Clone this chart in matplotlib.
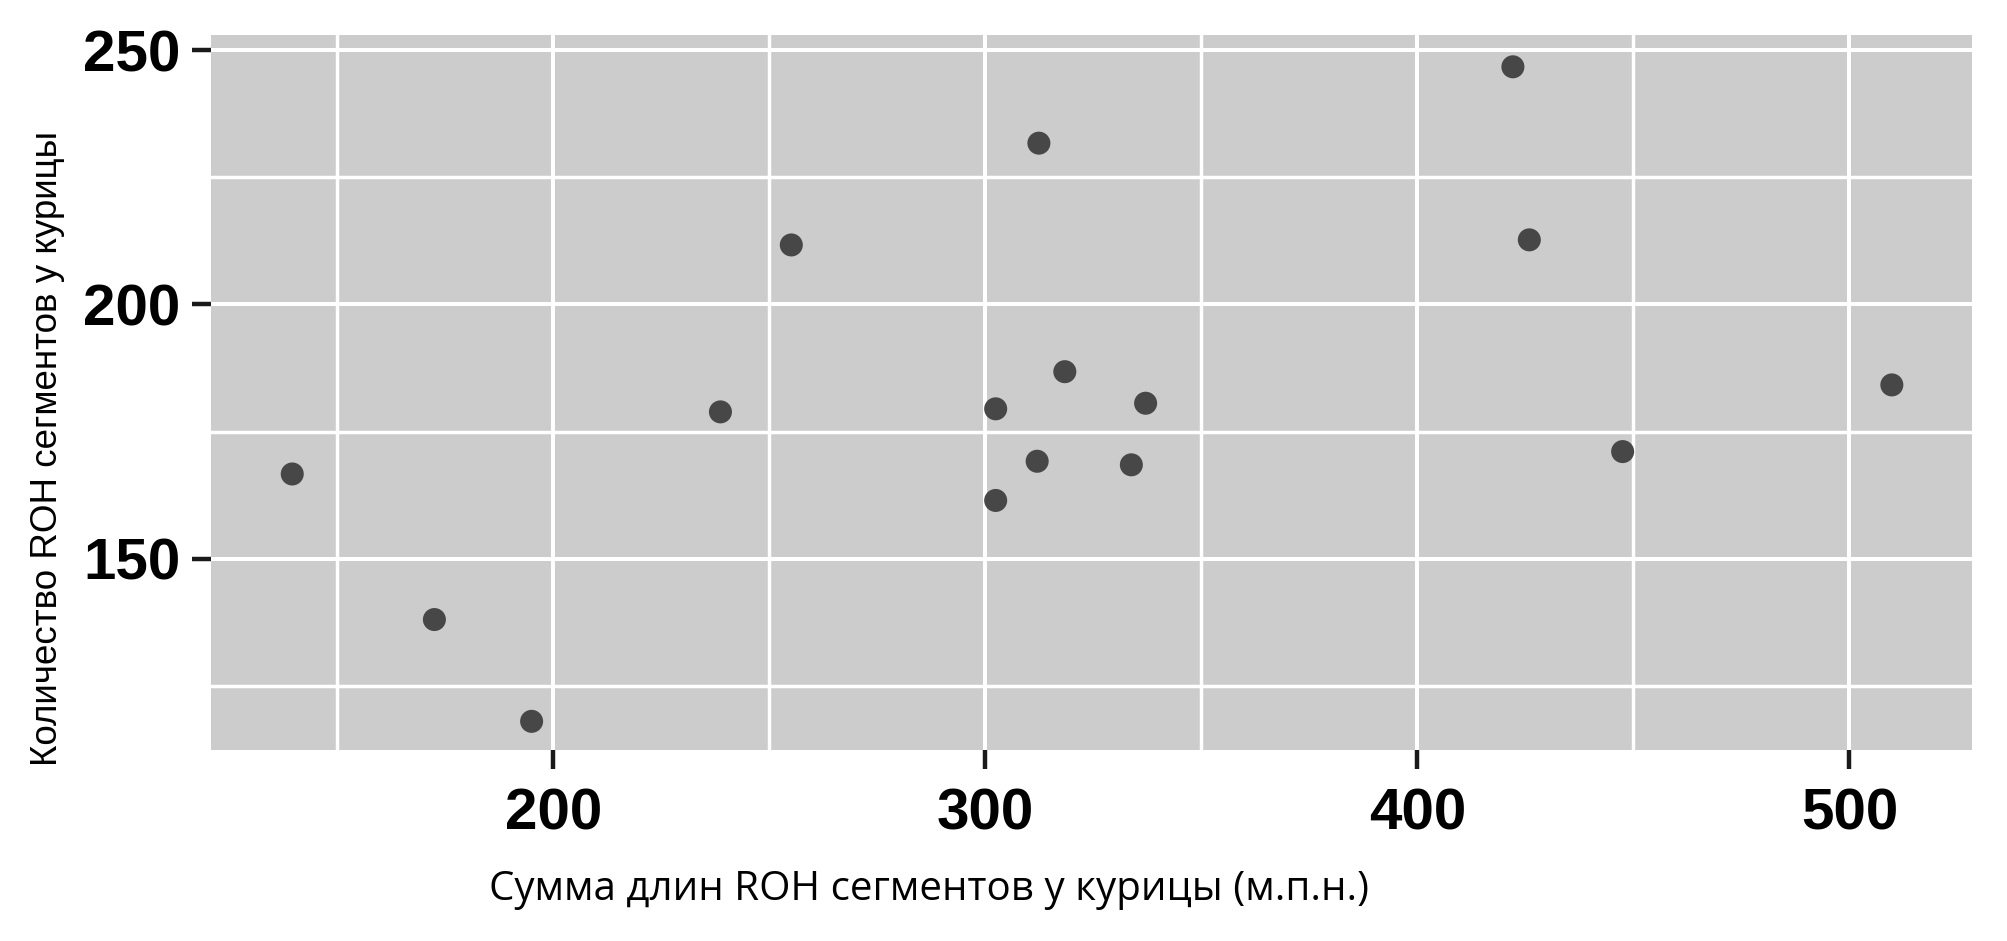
import matplotlib
matplotlib.use("Agg")
import matplotlib.pyplot as plt
from matplotlib.ticker import FixedLocator

# Data
roh_total_length = [139.6, 172.5, 195.0, 238.7, 255.1, 302.4, 302.4, 312.4, 312.0,
                    318.4, 333.8, 337.1, 422.1, 425.9, 447.5, 509.8]
roh_count = [166.7, 138.1, 118.1, 178.9, 211.7, 179.5, 161.5, 231.7, 169.2,
             186.8, 168.5, 180.6, 246.7, 212.7, 171.1, 184.2]

x_ticks = [200, 300, 400, 500]
y_ticks = [150, 200, 250]
x_minor = [150, 250, 350, 450]
y_minor = [125, 175, 225]

x_label = "Сумма длин ROH сегментов у курицы (м.п.н.)"
y_label = "Количество ROH сегментов у курицы"

fig = plt.figure(figsize=(20.08, 9.41), dpi=100)
ax = fig.add_axes([0.10508, 0.20298, 0.98207 - 0.10508, 0.96281 - 0.20298])
ax.set_facecolor("#cccccc")
for s in ax.spines.values():
    s.set_visible(False)

ax.set_xlim(120.8, 528.35)
ax.set_ylim(112.47, 252.95)
ax.xaxis.set_major_locator(FixedLocator(x_ticks))
ax.yaxis.set_major_locator(FixedLocator(y_ticks))
ax.xaxis.set_minor_locator(FixedLocator(x_minor))
ax.yaxis.set_minor_locator(FixedLocator(y_minor))

ax.grid(which="major", color="white", linewidth=2.9)
ax.grid(which="minor", color="white", linewidth=2.5)
ax.set_axisbelow(True)

ax.tick_params(which="major", length=13.5, width=3.2, color="#1a1a1a",
               labelsize=42, labelcolor="black")
ax.tick_params(axis="x", which="major", pad=13.5)
ax.tick_params(axis="y", which="major", pad=8.5)
ax.tick_params(which="minor", length=0)
for lab in ax.get_xticklabels() + ax.get_yticklabels():
    lab.set_family("Liberation Sans")
    lab.set_weight("bold")

ax.scatter(roh_total_length, roh_count, s=275, color="#474747", zorder=3,
           edgecolors="none")

fig.text(0.4627, 1 - 900 / 941, x_label, ha="center", va="baseline",
         fontsize=29, family="Open Sans", color="black")
fig.text(0.0239, 1 - 448.5 / 941, y_label, ha="center", va="center",
         rotation=90, fontsize=26.5, family="Liberation Sans", color="black")

fig.savefig("out.png", dpi=100, facecolor="white")
